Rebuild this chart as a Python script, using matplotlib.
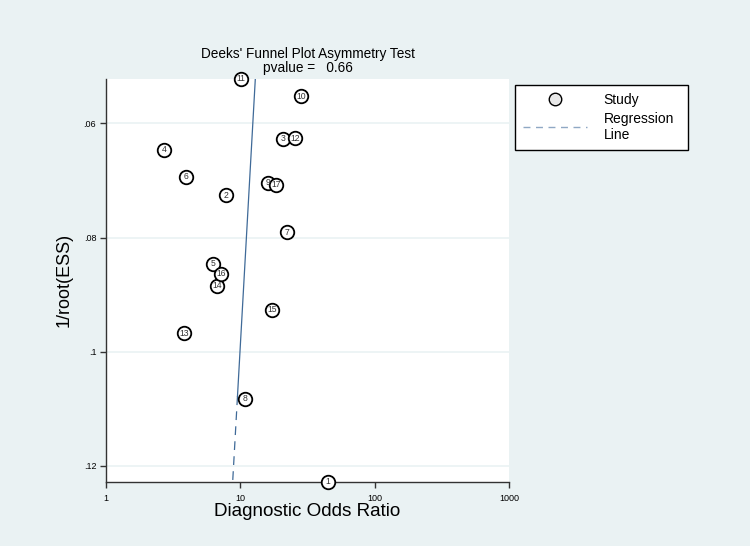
import numpy as np
import matplotlib
matplotlib.use("Agg")
import matplotlib.pyplot as plt
from matplotlib.lines import Line2D

plt.rcParams['font.family'] = ['Liberation Sans', 'DejaVu Sans']

# Data
study_ids = [1, 2, 3, 4, 5, 6, 7, 8, 9, 10, 11, 12, 13, 14, 15, 16, 17]
dor = [44.7, 7.8, 20.9, 2.72, 6.23, 3.94, 22.3, 10.8, 16.0, 28.4, 10.1, 25.7, 3.81, 6.74, 17.3, 7.18, 18.4]
inv_root_ess = [0.12275, 0.07258, 0.06268, 0.06461, 0.08456, 0.06935, 0.07907, 0.10825, 0.07035,
                0.05521, 0.05216, 0.06263, 0.09672, 0.08842, 0.09263, 0.08632, 0.07070]
# Regression: log10(DOR) = reg_intercept + reg_slope * (1/root(ESS))
reg_intercept = 1.2362
reg_slope = -2.388
solid_until = 0.1078
pvalue = 0.66
x_ticks = [1, 10, 100, 1000]
x_ticklabels = ['1', '10', '100', '1000']
y_ticks = [0.06, 0.08, 0.10, 0.12]
y_ticklabels = ['.06', '.08', '.1', '.12']

bg = '#EAF2F3'
line_col = '#3F6A98'

fig = plt.figure(figsize=(7.5, 5.46), dpi=100, facecolor=bg)
ax = fig.add_axes([0.1413, 0.1178, 0.6787 - 0.1413, 0.8559 - 0.1178])
ax.set_facecolor('white')

ymin, ymax = min(inv_root_ess), max(inv_root_ess)
ax.set_xscale('log')
ax.set_xlim(1, 1000)
ax.set_ylim(ymax, ymin)

for yt in y_ticks:
    ax.axhline(yt, color=bg, lw=1.2, zorder=0)

# regression line
y_solid = np.array([ymin, solid_until])
y_dash = np.array([solid_until, ymax])
ax.plot(10 ** (reg_intercept + reg_slope * y_solid), y_solid, color=line_col, lw=0.9, zorder=2)
ax.plot(10 ** (reg_intercept + reg_slope * y_dash), y_dash, color=line_col, lw=0.9,
        dashes=(7, 5), zorder=2)

ax.scatter(dor, inv_root_ess, s=95, facecolor='white', edgecolor='black', linewidth=1.3,
           zorder=3, clip_on=False)
for sid, xv, yv in zip(study_ids, dor, inv_root_ess):
    ax.text(xv, yv, str(sid), ha='center', va='center', fontsize=6.2, color='#333333',
            zorder=4, clip_on=False)

ax.set_xticks(x_ticks)
ax.set_xticklabels(x_ticklabels)
ax.minorticks_off()
ax.set_yticks(y_ticks)
ax.set_yticklabels(y_ticklabels)
ax.tick_params(axis='both', labelsize=6.5, length=4, width=1, color='#333333', direction='out')
ax.tick_params(axis='x', pad=5)
ax.tick_params(axis='y', pad=3)

for s in ['top', 'right']:
    ax.spines[s].set_visible(False)
for s in ['left', 'bottom']:
    ax.spines[s].set_color('#333333')
    ax.spines[s].set_linewidth(1.0)

ax.set_xlabel('Diagnostic Odds Ratio', fontsize=13.6, labelpad=0)
ax.set_ylabel('1/root(ESS)', fontsize=13, labelpad=8)

ax.set_title("Deeks' Funnel Plot Asymmetry Test\npvalue =   %.2f" % pvalue, fontsize=9.8,
             linespacing=1.05, pad=4.5)

handles = [Line2D([], [], marker='o', linestyle='none', markersize=9, markerfacecolor='#E8E8E8',
                  markeredgecolor='black', markeredgewidth=1.0, label='Study'),
           Line2D([], [], color='#8FA8C4', lw=1.0, dashes=(5, 4), label='Regression\nLine')]
leg = fig.legend(handles=handles, loc='upper left', bbox_to_anchor=(0.687, 0.72, 0.23, 0.124),
                 mode='expand', fontsize=10, frameon=True, fancybox=False, edgecolor='black',
                 facecolor='white', framealpha=1, handlelength=4.6, borderpad=0.55,
                 labelspacing=0.35, handletextpad=1.2, borderaxespad=0)
leg.get_frame().set_linewidth(1.0)

fig.savefig('out.png', dpi=100, facecolor=bg)
